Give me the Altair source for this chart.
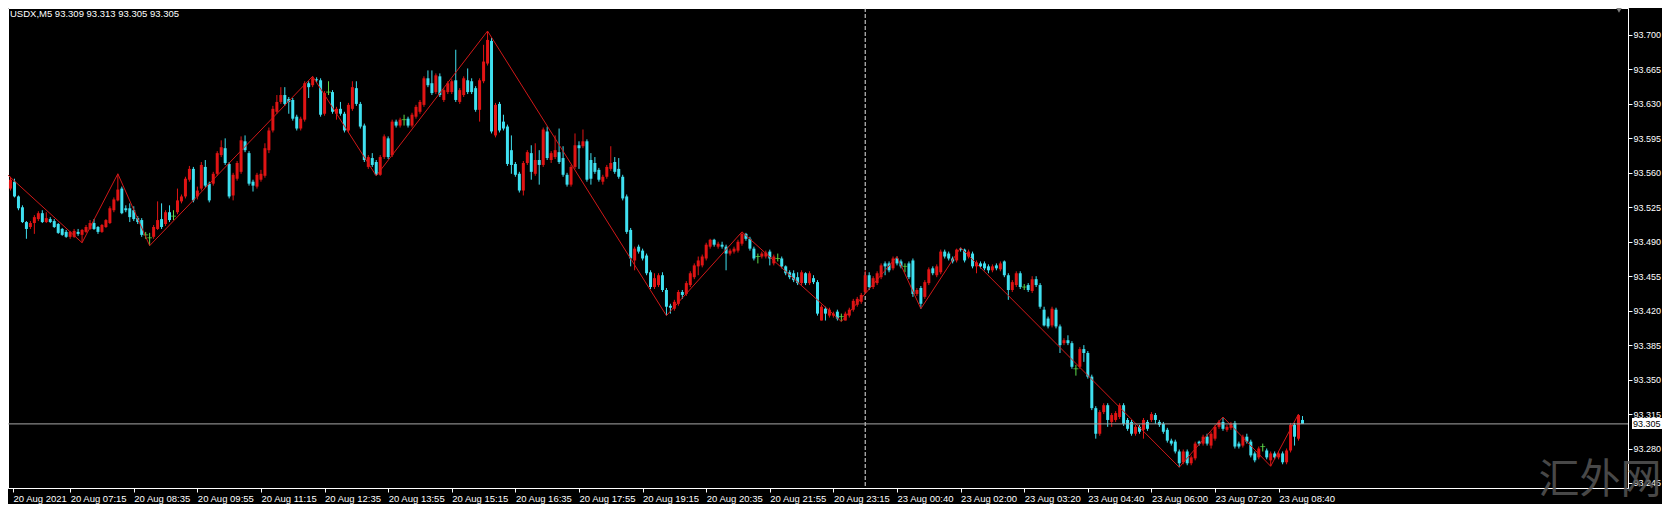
import altair as alt
import pandas as pd

symbol_info = "USDX,M5  93.309 93.313 93.305 93.305"
watermark = "汇外网"

# M5 candles, bar 0 = 20 Aug 05:55
opens = [
    93.541, 93.544, 93.551, 93.536, 93.525, 93.510, 93.505, 93.509, 93.513, 93.519,
    93.510, 93.513, 93.511, 93.508, 93.503, 93.500, 93.495, 93.495, 93.500, 93.497,
    93.500, 93.503, 93.509, 93.505, 93.500, 93.505, 93.509, 93.522, 93.532, 93.544,
    93.524, 93.524, 93.522, 93.514, 93.512, 93.497, 93.494, 93.495, 93.503, 93.513,
    93.508, 93.520, 93.516, 93.520, 93.531, 93.536, 93.553, 93.564, 93.536, 93.544,
    93.566, 93.549, 93.549, 93.559, 93.578, 93.585, 93.569, 93.537, 93.554, 93.561,
    93.592, 93.580, 93.551, 93.546, 93.553, 93.557, 93.583, 93.603, 93.622, 93.632,
    93.639, 93.635, 93.634, 93.617, 93.605, 93.614, 93.651, 93.649, 93.655, 93.654,
    93.620, 93.642, 93.642, 93.620, 93.625, 93.620, 93.603, 93.625, 93.646, 93.630,
    93.608, 93.566, 93.575, 93.571, 93.558, 93.576, 93.595, 93.578, 93.612, 93.608,
    93.614, 93.615, 93.608, 93.617, 93.622, 93.629, 93.656, 93.651, 93.642, 93.658,
    93.634, 93.642, 93.642, 93.654, 93.632, 93.639, 93.654, 93.653, 93.646, 93.624,
    93.653, 93.671, 93.694, 93.598, 93.630, 93.612, 93.607, 93.583, 93.569, 93.559,
    93.542, 93.570, 93.580, 93.559, 93.573, 93.568, 93.602, 93.573, 93.576, 93.581,
    93.575, 93.558, 93.548, 93.566, 93.588, 93.587, 93.592, 93.573, 93.570, 93.563,
    93.551, 93.556, 93.564, 93.571, 93.564, 93.556, 93.536, 93.502, 93.471, 93.485,
    93.481, 93.476, 93.459, 93.444, 93.446, 93.456, 93.441, 93.425, 93.422, 93.427,
    93.439, 93.437, 93.446, 93.454, 93.465, 93.466, 93.473, 93.485, 93.492, 93.485,
    93.487, 93.485, 93.478, 93.480, 93.481, 93.488, 93.498, 93.493, 93.483, 93.475,
    93.475, 93.475, 93.480, 93.468, 93.473, 93.473, 93.465, 93.459, 93.458, 93.454,
    93.448, 93.458, 93.448, 93.453, 93.449, 93.410, 93.422, 93.415, 93.415, 93.419,
    93.414, 93.410, 93.415, 93.421, 93.426, 93.429, 93.439, 93.456, 93.444, 93.448,
    93.454, 93.468, 93.468, 93.463, 93.473, 93.470, 93.465, 93.468, 93.471, 93.437,
    93.443, 93.434, 93.448, 93.463, 93.456, 93.459, 93.480, 93.478, 93.473, 93.471,
    93.483, 93.482, 93.475, 93.478, 93.465, 93.468, 93.468, 93.465, 93.461, 93.466,
    93.462, 93.470, 93.456, 93.441, 93.446, 93.458, 93.444, 93.446, 93.440, 93.452,
    93.446, 93.421, 93.412, 93.405, 93.421, 93.404, 93.387, 93.390, 93.387, 93.361,
    93.363, 93.381, 93.377, 93.353, 93.321, 93.295, 93.317, 93.324, 93.307, 93.309,
    93.312, 93.324, 93.309, 93.307, 93.295, 93.302, 93.299, 93.307, 93.309, 93.314,
    93.307, 93.305, 93.299, 93.288, 93.287, 93.277, 93.266, 93.277, 93.265, 93.270,
    93.287, 93.285, 93.292, 93.283, 93.290, 93.302, 93.307, 93.299, 93.301, 93.306,
    93.285, 93.283, 93.292, 93.287, 93.275, 93.271, 93.282, 93.278, 93.268, 93.275,
    93.271, 93.275, 93.266, 93.278, 93.304, 93.290, 93.309,
]
highs = [
    93.559, 93.556, 93.554, 93.537, 93.527, 93.511, 93.511, 93.517, 93.521, 93.522,
    93.520, 93.515, 93.513, 93.509, 93.504, 93.502, 93.501, 93.503, 93.503, 93.503,
    93.507, 93.512, 93.513, 93.506, 93.508, 93.513, 93.526, 93.535, 93.559, 93.546,
    93.527, 93.529, 93.526, 93.516, 93.514, 93.500, 93.499, 93.507, 93.531, 93.529,
    93.522, 93.527, 93.522, 93.544, 93.538, 93.556, 93.567, 93.566, 93.546, 93.571,
    93.573, 93.551, 93.561, 93.582, 93.593, 93.595, 93.571, 93.560, 93.572, 93.597,
    93.598, 93.582, 93.553, 93.560, 93.563, 93.590, 93.606, 93.628, 93.639, 93.647,
    93.647, 93.637, 93.636, 93.619, 93.617, 93.653, 93.653, 93.658, 93.657, 93.656,
    93.643, 93.653, 93.644, 93.627, 93.632, 93.622, 93.631, 93.653, 93.653, 93.632,
    93.610, 93.578, 93.580, 93.573, 93.578, 93.599, 93.597, 93.614, 93.614, 93.616,
    93.619, 93.617, 93.621, 93.629, 93.634, 93.658, 93.664, 93.664, 93.661, 93.661,
    93.646, 93.653, 93.655, 93.685, 93.646, 93.658, 93.666, 93.656, 93.648, 93.656,
    93.690, 93.704, 93.697, 93.631, 93.632, 93.619, 93.609, 93.598, 93.571, 93.561,
    93.572, 93.583, 93.588, 93.590, 93.583, 93.606, 93.607, 93.582, 93.598, 93.605,
    93.587, 93.560, 93.568, 93.600, 93.592, 93.604, 93.594, 93.580, 93.576, 93.565,
    93.558, 93.568, 93.587, 93.576, 93.575, 93.558, 93.538, 93.504, 93.485, 93.487,
    93.483, 93.478, 93.461, 93.458, 93.458, 93.459, 93.443, 93.427, 93.431, 93.441,
    93.441, 93.450, 93.460, 93.468, 93.475, 93.477, 93.489, 93.493, 93.493, 93.490,
    93.490, 93.487, 93.483, 93.485, 93.492, 93.500, 93.499, 93.495, 93.485, 93.478,
    93.480, 93.481, 93.482, 93.477, 93.478, 93.475, 93.466, 93.461, 93.461, 93.459,
    93.461, 93.459, 93.460, 93.456, 93.451, 93.426, 93.424, 93.423, 93.419, 93.421,
    93.417, 93.419, 93.423, 93.432, 93.434, 93.438, 93.461, 93.459, 93.455, 93.460,
    93.468, 93.470, 93.470, 93.475, 93.475, 93.472, 93.468, 93.470, 93.473, 93.443,
    93.445, 93.451, 93.464, 93.465, 93.467, 93.482, 93.482, 93.480, 93.475, 93.483,
    93.484, 93.483, 93.482, 93.480, 93.471, 93.470, 93.470, 93.467, 93.467, 93.468,
    93.470, 93.471, 93.458, 93.451, 93.460, 93.460, 93.447, 93.448, 93.455, 93.455,
    93.448, 93.424, 93.414, 93.424, 93.423, 93.406, 93.392, 93.395, 93.389, 93.365,
    93.383, 93.385, 93.379, 93.355, 93.323, 93.319, 93.326, 93.326, 93.316, 93.318,
    93.326, 93.326, 93.311, 93.309, 93.304, 93.304, 93.311, 93.309, 93.317, 93.316,
    93.309, 93.307, 93.301, 93.290, 93.289, 93.279, 93.279, 93.279, 93.273, 93.287,
    93.288, 93.294, 93.295, 93.297, 93.304, 93.309, 93.312, 93.304, 93.307, 93.308,
    93.287, 93.294, 93.295, 93.289, 93.277, 93.282, 93.285, 93.280, 93.277, 93.277,
    93.277, 93.277, 93.280, 93.306, 93.306, 93.315, 93.313,
]
lows = [
    93.539, 93.542, 93.535, 93.522, 93.509, 93.493, 93.503, 93.498, 93.511, 93.509,
    93.509, 93.509, 93.504, 93.498, 93.496, 93.494, 93.493, 93.494, 93.496, 93.489,
    93.499, 93.502, 93.502, 93.498, 93.499, 93.504, 93.508, 93.520, 93.531, 93.518,
    93.520, 93.510, 93.511, 93.508, 93.495, 93.493, 93.486, 93.493, 93.502, 93.503,
    93.506, 93.510, 93.512, 93.518, 93.529, 93.534, 93.551, 93.530, 93.533, 93.542,
    93.545, 93.530, 93.547, 93.557, 93.576, 93.568, 93.534, 93.532, 93.552, 93.559,
    93.581, 93.547, 93.541, 93.544, 93.551, 93.555, 93.580, 93.601, 93.620, 93.630,
    93.628, 93.620, 93.613, 93.603, 93.603, 93.612, 93.636, 93.647, 93.652, 93.617,
    93.618, 93.639, 93.620, 93.614, 93.618, 93.601, 93.601, 93.623, 93.628, 93.605,
    93.571, 93.564, 93.566, 93.557, 93.557, 93.574, 93.574, 93.576, 93.606, 93.606,
    93.608, 93.606, 93.606, 93.615, 93.620, 93.627, 93.647, 93.639, 93.640, 93.637,
    93.632, 93.640, 93.640, 93.632, 93.630, 93.637, 93.640, 93.640, 93.622, 93.612,
    93.651, 93.669, 93.600, 93.596, 93.601, 93.603, 93.567, 93.559, 93.556, 93.540,
    93.537, 93.568, 93.553, 93.557, 93.548, 93.566, 93.573, 93.570, 93.574, 93.569,
    93.556, 93.546, 93.546, 93.564, 93.564, 93.585, 93.551, 93.548, 93.559, 93.551,
    93.548, 93.554, 93.562, 93.559, 93.554, 93.532, 93.498, 93.465, 93.461, 93.478,
    93.471, 93.456, 93.442, 93.442, 93.444, 93.439, 93.415, 93.417, 93.420, 93.425,
    93.432, 93.435, 93.444, 93.452, 93.456, 93.464, 93.471, 93.483, 93.485, 93.483,
    93.483, 93.461, 93.476, 93.478, 93.479, 93.486, 93.491, 93.481, 93.471, 93.468,
    93.473, 93.473, 93.466, 93.466, 93.470, 93.463, 93.456, 93.452, 93.449, 93.446,
    93.446, 93.446, 93.446, 93.447, 93.415, 93.410, 93.410, 93.413, 93.413, 93.410,
    93.409, 93.410, 93.413, 93.419, 93.424, 93.427, 93.437, 93.441, 93.442, 93.446,
    93.452, 93.456, 93.459, 93.461, 93.466, 93.463, 93.459, 93.452, 93.434, 93.435,
    93.422, 93.432, 93.446, 93.456, 93.454, 93.457, 93.473, 93.471, 93.468, 93.469,
    93.480, 93.469, 93.473, 93.463, 93.458, 93.463, 93.461, 93.458, 93.459, 93.461,
    93.460, 93.454, 93.431, 93.439, 93.444, 93.442, 93.441, 93.439, 93.438, 93.444,
    93.422, 93.404, 93.402, 93.403, 93.402, 93.377, 93.385, 93.385, 93.361, 93.354,
    93.361, 93.368, 93.351, 93.319, 93.290, 93.293, 93.315, 93.302, 93.302, 93.307,
    93.310, 93.303, 93.298, 93.293, 93.293, 93.295, 93.290, 93.298, 93.307, 93.305,
    93.302, 93.295, 93.286, 93.283, 93.275, 93.261, 93.264, 93.263, 93.263, 93.268,
    93.283, 93.283, 93.283, 93.280, 93.288, 93.300, 93.298, 93.297, 93.299, 93.280,
    93.280, 93.281, 93.285, 93.271, 93.266, 93.269, 93.277, 93.269, 93.262, 93.269,
    93.269, 93.264, 93.264, 93.276, 93.283, 93.288, 93.305,
]
closes = [
    93.551, 93.553, 93.536, 93.524, 93.510, 93.503, 93.509, 93.515, 93.519, 93.510,
    93.514, 93.510, 93.505, 93.499, 93.497, 93.495, 93.500, 93.501, 93.498, 93.502,
    93.505, 93.509, 93.503, 93.500, 93.507, 93.512, 93.524, 93.533, 93.543, 93.519,
    93.522, 93.515, 93.513, 93.510, 93.497, 93.497, 93.494, 93.505, 93.512, 93.505,
    93.520, 93.512, 93.516, 93.532, 93.536, 93.554, 93.564, 93.532, 93.542, 93.568,
    93.547, 93.532, 93.559, 93.580, 93.586, 93.570, 93.536, 93.558, 93.570, 93.593,
    93.583, 93.549, 93.547, 93.558, 93.559, 93.585, 93.603, 93.625, 93.632, 93.639,
    93.630, 93.632, 93.615, 93.605, 93.615, 93.651, 93.647, 93.656, 93.654, 93.619,
    93.641, 93.642, 93.622, 93.625, 93.620, 93.603, 93.629, 93.647, 93.630, 93.607,
    93.573, 93.576, 93.568, 93.558, 93.576, 93.597, 93.576, 93.612, 93.608, 93.614,
    93.614, 93.608, 93.619, 93.627, 93.632, 93.656, 93.649, 93.641, 93.659, 93.639,
    93.644, 93.651, 93.653, 93.634, 93.644, 93.656, 93.642, 93.642, 93.624, 93.654,
    93.673, 93.695, 93.602, 93.629, 93.603, 93.605, 93.569, 93.568, 93.558, 93.542,
    93.570, 93.581, 93.561, 93.573, 93.568, 93.604, 93.575, 93.580, 93.583, 93.571,
    93.558, 93.548, 93.566, 93.588, 93.585, 93.592, 93.553, 93.554, 93.561, 93.553,
    93.556, 93.566, 93.570, 93.561, 93.556, 93.534, 93.500, 93.473, 93.483, 93.480,
    93.473, 93.458, 93.444, 93.453, 93.456, 93.441, 93.424, 93.423, 93.429, 93.439,
    93.436, 93.448, 93.458, 93.466, 93.471, 93.475, 93.487, 93.492, 93.487, 93.488,
    93.485, 93.478, 93.481, 93.483, 93.490, 93.498, 93.493, 93.483, 93.473, 93.475,
    93.478, 93.479, 93.473, 93.475, 93.473, 93.465, 93.458, 93.454, 93.451, 93.448,
    93.459, 93.448, 93.458, 93.449, 93.417, 93.424, 93.417, 93.421, 93.417, 93.412,
    93.414, 93.417, 93.421, 93.430, 93.432, 93.436, 93.456, 93.444, 93.453, 93.458,
    93.466, 93.465, 93.461, 93.473, 93.468, 93.465, 93.465, 93.454, 93.437, 93.441,
    93.427, 93.449, 93.462, 93.458, 93.465, 93.480, 93.475, 93.473, 93.470, 93.482,
    93.482, 93.471, 93.480, 93.465, 93.469, 93.465, 93.463, 93.461, 93.465, 93.463,
    93.468, 93.456, 93.441, 93.449, 93.458, 93.444, 93.444, 93.441, 93.452, 93.446,
    93.424, 93.405, 93.404, 93.422, 93.404, 93.385, 93.390, 93.387, 93.363, 93.361,
    93.381, 93.377, 93.353, 93.321, 93.295, 93.317, 93.324, 93.309, 93.314, 93.316,
    93.324, 93.305, 93.300, 93.295, 93.302, 93.297, 93.309, 93.300, 93.315, 93.309,
    93.304, 93.297, 93.288, 93.285, 93.277, 93.265, 93.277, 93.265, 93.271, 93.285,
    93.285, 93.292, 93.285, 93.295, 93.302, 93.307, 93.300, 93.302, 93.305, 93.282,
    93.282, 93.292, 93.287, 93.273, 93.268, 93.280, 93.282, 93.271, 93.275, 93.271,
    93.275, 93.266, 93.278, 93.304, 93.292, 93.314, 93.305,
]

# ZigZag indicator pivots
zz_bars = [0, 19, 28, 36, 77, 93, 121, 166, 185, 210, 224, 230, 240, 295, 306, 318, 325]
zz_prices = [93.559, 93.489, 93.559, 93.486, 93.658, 93.557, 93.704, 93.415, 93.500,
             93.409, 93.475, 93.422, 93.484, 93.261, 93.312, 93.262, 93.315]

x_tick_bars = [0, 16, 32, 48, 64, 80, 96, 112, 128, 144, 160, 176, 192, 208, 224,
               240, 256, 272, 288, 304, 320]
x_tick_labels = ["20 Aug 2021", "20 Aug 07:15", "20 Aug 08:35", "20 Aug 09:55",
                 "20 Aug 11:15", "20 Aug 12:35", "20 Aug 13:55", "20 Aug 15:15",
                 "20 Aug 16:35", "20 Aug 17:55", "20 Aug 19:15", "20 Aug 20:35",
                 "20 Aug 21:55", "20 Aug 23:15", "23 Aug 00:40", "23 Aug 02:00",
                 "23 Aug 03:20", "23 Aug 04:40", "23 Aug 06:00", "23 Aug 07:20",
                 "23 Aug 08:40"]
y_ticks = [93.245, 93.280, 93.315, 93.350, 93.385, 93.420, 93.455, 93.490,
           93.525, 93.560, 93.595, 93.630, 93.665, 93.700]
separator_bar = 216

assert len(opens) == len(highs) == len(lows) == len(closes) == 327

RED = "#e01414"
CYAN = "#3fe0f0"
GREEN = "#5ddc4a"
ZZ = "#d01818"
FONT = "Liberation Sans Narrow, Liberation Sans, sans-serif"

W, H = 1620, 480
x_lo = 1.625
x_hi = x_lo + W / 4.0
y_lo, y_hi = 93.2399, 93.7274

n = len(opens)
df = pd.DataFrame({"bar": list(range(n)), "o": opens, "h": highs, "l": lows, "c": closes})
df["kind"] = ["doji" if c == o else ("up" if c > o else "down") for o, c in zip(opens, closes)]

xs = alt.Scale(domain=[x_lo, x_hi], nice=False, zero=False)
ys = alt.Scale(domain=[y_lo, y_hi], nice=False, zero=False)

tick_vals = [max(b, x_lo) for b in x_tick_bars]
expr = "''"
for v, lab in reversed(list(zip(tick_vals, x_tick_labels))):
    expr = f"datum.value == {v} ? '{lab}' : ({expr})"

xaxis = alt.Axis(values=tick_vals, labelExpr=expr, orient="bottom", title=None, grid=False,
                 labelAlign="left", labelBaseline="top", labelPadding=1, tickSize=4,
                 tickColor="#ffffff", domainColor="#ffffff", labelColor="#ffffff",
                 labelFont=FONT, labelFontSize=9.5, labelOverlap=False, labelFlush=False)
yaxis = alt.Axis(values=y_ticks, format=".3f", orient="right", title=None, grid=False,
                 labelAlign="left", labelBaseline="middle", labelPadding=1, tickSize=4,
                 tickColor="#ffffff", domainColor="#ffffff", labelColor="#ffffff",
                 labelFont=FONT, labelFontSize=9, labelOverlap=False, labelFlush=False)


def X(f):
    return alt.X(f, type="quantitative", scale=xs, axis=xaxis)


def Y(f):
    return alt.Y(f, type="quantitative", scale=ys, axis=yaxis)


color = alt.Color("kind:N", scale=alt.Scale(domain=["up", "down", "doji"],
                                             range=[RED, CYAN, GREEN]), legend=None)

wicks = alt.Chart(df).mark_rule(strokeWidth=1, clip=True).encode(
    x=X("bar"), y=Y("l"), y2=alt.Y2("h"), color=color)
bodies = alt.Chart(df[df.kind != "doji"]).mark_bar(size=3, clip=True).encode(
    x=X("bar"), y=Y("o"), y2=alt.Y2("c"), color=color)
dojis = alt.Chart(df[df.kind == "doji"]).mark_tick(
    orient="horizontal", size=5, thickness=1, clip=True, color=GREEN).encode(
    x=X("bar"), y=Y("c"))

zz_df = pd.DataFrame({"bar": zz_bars, "p": zz_prices})
zigzag = alt.Chart(zz_df).mark_line(color=ZZ, strokeWidth=1, clip=True).encode(
    x=X("bar"), y=Y("p"))

last_df = pd.DataFrame({"p": [closes[-1]], "t": [f"{closes[-1]:.3f}"]})
price_line = alt.Chart(last_df).mark_rule(color="#a8a8a8", strokeWidth=1).encode(y=Y("p"))

sep = alt.Chart(pd.DataFrame({"bar": [separator_bar]})).mark_rule(
    color="#e6e6e6", strokeWidth=1, strokeDash=[4, 2]).encode(x=X("bar"))

tag_box = alt.Chart(last_df).mark_rect(color="#ffffff", yOffset=-6, y2Offset=5).encode(
    x=alt.value(W + 4), x2=alt.value(W + 40), y=Y("p"), y2=alt.Y2("p"))
tag_txt = alt.Chart(last_df).mark_text(
    align="left", baseline="middle", color="#000000", font=FONT, fontSize=9).encode(
    x=alt.value(W + 5), y=Y("p"), text="t:N")

title = alt.Chart(pd.DataFrame({"t": [symbol_info]})).mark_text(
    align="left", baseline="middle", color="#ffffff", font=FONT, fontSize=9.5).encode(
    x=alt.value(2), y=alt.value(6), text="t:N")

wm = alt.Chart(pd.DataFrame({"t": [watermark]})).mark_text(
    align="center", baseline="middle", color="#555555", font="Noto Sans CJK SC",
    fontSize=41, opacity=0.85).encode(x=alt.value(W - 28), y=alt.value(H - 7), text="t:N")

tri = alt.Chart(pd.DataFrame({"a": [0]})).mark_point(
    shape="triangle-down", filled=True, color="#808080", size=40, opacity=1).encode(
    x=alt.value(W - 9), y=alt.value(2))

chart = alt.layer(
    sep, wicks, bodies, dojis, zigzag, price_line, tag_box, tag_txt, title, wm, tri
).properties(
    width=W, height=H, background="#000000",
    padding={"left": 0, "top": 0, "right": 34, "bottom": 16},
    autosize=alt.AutoSizeParams(type="none"),
).configure_view(stroke="#ffffff", strokeWidth=1)

chart.save("out.html", embed_options={"renderer": "svg", "actions": False})
